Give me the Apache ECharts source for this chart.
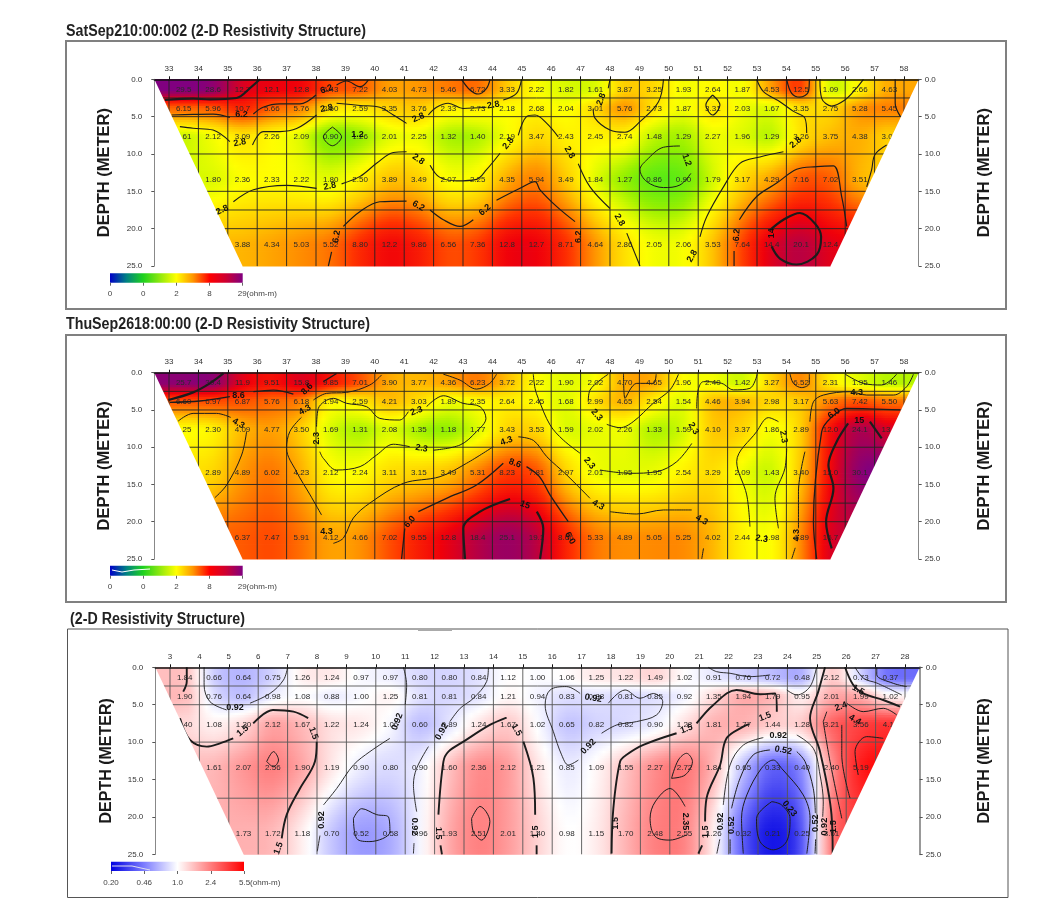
<!DOCTYPE html>
<html>
<head>
<meta charset="utf-8">
<script src="https://cdn.jsdelivr.net/npm/echarts@6/dist/echarts.min.js"></script>
<style>html,body{margin:0;padding:0;background:#fff}#c{width:1061px;height:915px;filter:blur(0.5px)}</style>
</head>
<body>
<div id="c"></div>
<script>
// ---------- read values ----------
const titles = ['SatSep210:00:002 (2-D Resistivity Structure)','ThuSep2618:00:00 (2-D Resistivity Structure)','(2-D Resistivity Structure)'];
const columnStart = [33, 33, 3];
const rowDepths = [1.4, 3.9, 7.7, 13.4, 22.2];
const legendTicks1 = ['0','0','2','8','29(ohm-m)'];
const legendTicks3 = ['0.20','0.46','1.0','2.4','5.5(ohm-m)'];
const depthTicks = [0,5,10,15,20,25];

const p1r1=[29.5,28.6,12.7,12.1,12.8,6.43,7.22,4.03,4.73,5.46,6.72,3.33,2.22,1.82,1.61,3.87,3.25,1.93,2.64,1.87,4.53,12.5,1.09,2.66,4.63];
const p1r2=[6.15,5.96,10.7,5.66,5.76,2.60,2.59,3.35,3.76,2.33,2.73,2.18,2.68,2.04,3.01,5.76,2.73,1.87,3.31,2.03,1.67,3.35,2.75,5.28,5.45];
const p1r3=[1.61,2.12,3.09,2.26,2.09,0.90,1.26,2.01,2.25,1.32,1.40,2.19,3.47,2.43,2.45,2.74,1.48,1.29,2.27,1.96,1.29,3.26,3.75,4.38,3.07];
const p1r4=[null,1.80,2.36,2.33,2.22,1.80,2.50,3.89,3.49,2.07,2.25,4.35,5.94,3.49,1.84,1.27,0.86,0.90,1.79,3.17,4.29,7.16,7.02,3.51,null];
const p1r5=[null,null,3.88,4.34,5.03,5.52,8.80,12.2,9.86,6.56,7.36,12.8,12.7,8.71,4.64,2.86,2.05,2.06,3.53,7.64,14.4,20.1,12.4,null,null];

const p2r1=[25.7,30.4,11.9,9.51,15.8,9.85,7.01,3.90,3.77,4.36,6.23,3.72,2.22,1.90,2.02,4.70,4.65,1.96,2.40,1.42,3.27,6.52,2.31,1.95,1.46];
const p2r2=[6.60,6.97,6.87,5.76,6.18,1.94,2.59,4.21,3.03,1.89,2.35,2.64,2.45,1.68,2.99,4.65,2.54,1.54,4.46,3.94,2.98,3.17,5.63,7.42,5.50];
const p2r3=[2.25,2.30,4.09,4.77,3.50,1.69,1.31,2.08,1.35,1.18,1.77,3.43,3.53,1.59,2.02,2.26,1.33,1.59,4.10,3.37,1.86,2.89,12.0,24.1,13.2];
const p2r4=[null,2.89,4.89,6.02,4.23,2.12,2.24,3.11,3.15,3.49,5.31,8.23,7.81,2.97,2.01,1.95,1.95,2.54,3.29,2.09,1.43,3.40,12.0,30.1,null];
const p2r5=[null,null,6.37,7.47,5.91,4.12,4.66,7.02,9.55,12.8,18.4,25.1,19.1,8.66,5.33,4.89,5.05,5.25,4.02,2.44,1.98,4.89,16.7,null,null];

const p3r1=[1.84,0.66,0.64,0.75,1.26,1.24,0.97,0.97,0.80,0.80,0.84,1.12,1.00,1.06,1.25,1.22,1.49,1.02,0.91,0.76,0.72,0.48,2.12,0.73,0.37];
const p3r2=[1.90,0.76,0.64,0.98,1.08,0.88,1.00,1.25,0.81,0.81,0.84,1.21,0.94,0.83,0.88,0.81,0.85,0.92,1.35,1.94,1.79,0.95,2.01,1.99,1.02];
const p3r3=[1.40,1.08,1.30,2.12,1.67,1.22,1.24,1.06,0.60,0.89,1.24,1.67,1.02,0.65,0.82,0.82,0.90,1.28,1.81,1.77,1.44,1.28,3.21,3.56,4.11];
const p3r4=[null,1.61,2.07,2.56,1.90,1.19,0.90,0.80,0.90,1.60,2.36,2.12,1.21,0.85,1.09,1.55,2.27,2.72,1.84,0.65,0.33,0.40,2.40,5.19,null];
const p3r5=[null,null,1.73,1.72,1.18,0.70,0.52,0.58,0.96,1.93,2.51,2.01,1.40,0.98,1.15,1.70,2.48,2.55,1.26,0.32,0.21,0.25,3.61,null,null];

const contours1=[
['14',[[32.86,2.77],[33.82,2.59],[34.39,2.68],[35.3,2.5],[35.75,1.2],[36.09,0]]],
['6.2',[[33.09,4.78],[33.82,4.69],[34.5,4.65],[35.07,5.1]]],
['6.2',[[35.87,4.65],[36.2,3.75],[36.77,3.3],[37.45,3.3],[38,2.1]]],
['6.2',[[38.7,0.76],[39.04,0.23],[39.5,0.99],[39.78,0.1]]],
['6.2',[[42.95,0],[43.24,1.43],[43.52,1.97],[43.8,1.2],[43.92,0]]],
['2.8',[[38.7,3.2],[39.5,3.5],[40.17,3.75],[40.63,4.78],[41.08,5.9]]],
['2.8',[[41.82,4.78],[42.1,3.75],[42.5,3.2],[43,3.9],[43.8,3.75]]],
['2.8',[[44.37,2.77],[44.82,1.88],[44.99,0]]],
['2.8',[[35.84,8.8],[36.2,7],[36.77,7],[37.34,6.6],[38.02,4.78]]],
['2.8',[[33.37,6.34],[33.82,6.56],[34.5,6.8],[35.07,8.35]]],
['2.8',[[35.19,16.4],[35.87,14.8],[37,14.2],[38.02,14.6]]],
['2.8',[[38.87,14],[39.5,13],[40.06,11.25],[40.63,9.8],[41.08,9.7]]],
['2.8',[[41.88,11.5],[42.2,13.1],[42.78,13.6],[43.46,13.4],[43.8,12.1],[44.26,9.9]]],
['2.8',[[44.88,7.5],[45.16,5],[45.45,4.78],[45.85,5.9],[46.24,7.7]]],
['2.8',[[46.92,11.3],[47.32,14.4],[48,17.3]]],
['2.8',[[48.57,20.6],[49.02,25]]],
['6.2',[[38.42,25],[38.53,23.1]]],
['6.2',[[38.93,19.7],[39.5,17.7],[40.17,16.4],[41.08,16.3]]],
['6.2',[[41.88,17.5],[42.33,18.8],[42.9,19.7],[43.35,18.8]]],
['6.2',[[44.14,16.2],[44.94,14.6],[45.45,13.7],[45.62,14.8],[46.19,17.05],[46.81,19.06]]],
['2.8',[[48,0],[47.94,1.2]]],
['2.8',[[47.43,3.9],[47.49,5.2],[48,6.8],[48.51,7.1],[49.02,5.67],[49.65,3],[49.82,0]]],
['2.8',[[51.49,2.1],[51.74,3.44],[51.49,4.78],[51.26,3.44],[51.49,2.1]]],
['2.8',[[52.99,0],[53.22,1.65],[53.78,3],[54.24,4.3],[54.63,5.2],[54.69,7.2]]],
['2.8',[[53.9,9.7],[53.1,10.4],[52.42,11.25],[51.86,14.4],[51.29,18.4],[51.06,21.1]]],
['1.2',[[50.38,8.93],[49.82,9.1],[49.25,10.8],[49.02,12.1],[49.25,13.7],[49.82,14.5],[50.38,14.15],[50.75,12.6]]],
['6.2',[[52.4,18.8],[52.99,15.7],[53.67,13.9],[54.35,12.05],[55.03,11.7],[55.6,11.6],[55.88,15.7],[56.05,19.7]]],
['6.2',[[52.22,25],[52.22,23]]],
['14',[[53.44,20.2],[53.9,18.8],[54.46,17.9],[54.97,19.3],[55.18,21.1],[55.03,23.5],[54.35,24.8],[53.78,24],[53.5,22.4]]],
['2.8',[[55.14,0],[55.2,2.55],[55.54,3.57],[55.99,2.77],[56.33,1.43],[56.62,0]]],
['6.2',[[54.01,0],[54.18,1.88],[54.46,2.4],[54.75,1.65],[54.78,0]]],
['6.2',[[57.7,0],[57.7,3.2],[57.88,5]]],
['2.8',[[57.41,8.8],[57.01,10.1],[56.9,12.1],[56.73,14.4]]],
['1.2',[[38.56,6.4],[38.87,7.7],[38.56,8.9],[38.25,7.7],[38.56,6.4]]]
];
const contourLabels1=[
['6.2',35.47,4.78,0],['6.2',38.36,1.34,20],['6.2',41.48,16.96,-30],['6.2',43.75,17.5,40],['6.2',38.7,21.07,80],['6.2',46.92,21.07,90],['6.2',52.31,20.85,85],
['2.8',35.41,8.48,10],['2.8',38.36,3.89,10],['2.8',41.48,5.14,25],['2.8',44.03,3.44,10],['2.8',44.54,8.57,50],['2.8',41.48,10.72,-35],['2.8',38.47,14.3,10],['2.8',34.81,17.5,25],
['2.8',46.62,9.78,-60],['2.8',48.32,18.84,-60],['2.8',47.7,2.68,70],['2.8',54.32,8.48,40],['2.8',50.8,23.66,60],['1.2',50.61,10.8,-70],['14',53.5,20.6,90],['1.2',39.41,7.46,0]
];

const contours2=[
['15',[[32.98,3.67],[33.82,2.64],[34.39,1.43],[34.85,0.1]]],
['8.6',[[33.03,3.98],[34.05,3.8],[35.07,3.22]]],
['8.6',[[35.87,2.55],[36.55,2.33],[37.23,2.86]]],
['8.6',[[38.25,1.2],[38.7,0.1]]],
['4.3',[[37.91,3.67],[38.36,2.77],[39.04,2.64],[39.83,1.65],[40.23,0.3]]],
['4.3',[[37.5,6],[37.11,7.9],[37,10.15],[37.34,13.3],[37.8,16.4],[38.19,19.1]]],
['4.3',[[33.31,6.5],[33.82,5.46],[34.62,5.46],[35.1,6]]],
['4.3',[[35.64,7.9],[35.47,11.05],[34.96,15.07],[34.56,16.77]]],
['2.3',[[38.02,7.24],[38.08,4.78],[38.59,3.44],[39.04,4.11],[39.72,4.56],[40.17,6.13],[40.85,6.35],[41.14,5.23]]],
['2.3',[[41.76,4.56],[42.33,3.09],[43,4.11],[43.58,4.56],[43.78,6.13],[43.46,7.9],[42.9,9.7],[41.99,10.4]]],
['2.3',[[41.19,9.93],[40.63,9.6],[40.06,11.05],[39.5,12.6],[38.7,13.06],[38.25,11.5],[38.13,10.6]]],
['6.0',[[40.91,25],[41.02,20.9]]],
['6.0',[[41.48,18.65],[42.44,16.86],[43.46,15.07],[44.37,12.16]]],
['6.0',[[45.16,12.6],[45.6,13.95],[45.96,16.4],[46.58,20]]],
['4.3',[[38.59,22.9],[38.93,22.2],[39.27,19.5],[39.83,17.5],[40.97,14.85],[42.22,13.95],[43.12,12.16],[44.03,9.93]]],
['4.3',[[44.88,8.6],[45.4,9.1],[45.85,11.27],[46.53,13.73],[47.32,16.86]]],
['4.3',[[48,18.65],[48.91,18.96],[49.82,18.42],[50.78,18.42]]],
['4.3',[[51.18,23.57],[51.12,25]]],
['15',[[43.07,25],[43.01,20.9],[43.58,18.65],[44.6,16.95]]],
['15',[[45.51,18.65],[45.73,20.9],[45.62,25]]],
['2.3',[[50.33,0.2],[50.04,2.3],[49.47,4.1],[48.79,6.57],[48.34,7.38],[47.89,6.93]]],
['2.3',[[47.26,3.9],[47.32,2.33],[47.94,0.2]]],
['2.3',[[45.39,0.2],[45.45,2.1],[45.56,3.44],[45.96,7],[46.41,9.03],[46.98,10.8]]],
['2.3',[[47.66,13.06],[48.68,13.5],[49.59,13.28],[50.27,11.94],[50.78,9.5]]],
['2.3',[[50.95,4.8],[51,2.3],[51.18,1.2],[51.8,1.43],[52.2,2.3],[52.76,2.1],[53.01,0.2]]],
['4.3',[[48.46,0.1],[48.51,3.44],[48.91,1.43],[49.47,1.43],[49.57,0.2]]],
['2.3',[[52.76,20.66],[52.65,16.4],[52.31,11.94],[52.99,7.9],[53.39,6.03],[53.73,6.57]]],
['2.3',[[54.01,10.15],[53.95,12.83],[53.61,16.86],[53.73,20.88]]],
['4.3',[[54.63,10.6],[54.41,15.97],[54.41,20.88]]],
['4.3',[[54.18,25],[54.3,23.5]]],
['4.3',[[54.8,6.57],[54.92,3.9],[55.26,3],[56.16,2.55],[56.73,3],[57.64,3],[58.09,1.88],[58.32,0.2]]],
['6.0',[[55.03,25],[54.92,20],[55.2,7.9],[55.5,6.1],[56.05,4.78],[57.87,5]]],
['15',[[55.54,23.57],[55.35,20],[55.6,15.5],[55.43,12.4],[55.71,9.26],[56.1,6.8]]],
['15',[[56.84,6.57],[57.24,8.8]]],
['2.3',[[56,0.2],[56.62,1.43],[57.24,1.65],[57.75,0.2]]],
['4.3',[[54.12,0.1],[54.24,1.43],[54.52,2],[54.78,1.43],[54.78,0.2]]],
['4.3',[[42.33,0.2],[42.9,1],[43.46,2.2],[43.91,1.43],[44.14,0.2]]]
];
const contourLabels2=[
['8.6',35.36,3,0],['8.6',37.7,2.2,45],['4.3',37.62,5,30],['4.3',35.36,6.8,-30],['2.3',41.42,5.14,20],['2.3',41.59,10.15,-10],['2.3',38.02,8.8,90],['6.0',41.19,20,50],['4.3',44.48,9.17,20],['8.6',44.77,12.16,-20],['15',45.11,17.75,-20],['4.3',38.36,21.33,0],
['6.0',46.64,22.2,-60],['4.3',47.6,17.75,-30],['4.3',51.12,19.77,-30],['2.3',47.55,5.68,-50],['2.3',47.3,12.16,-50],['2.3',50.84,7.47,-60],['2.3',53.9,8.6,-80],['2.3',53.16,22.3,-10],['4.3',54.35,21.8,90],['4.3',56.39,2.64,0],['6.0',55.62,5.46,35],['15',56.48,6.35,0]
];

const contours3=[
['1.5',[[3.57,0],[3.57,1.9],[3.45,3.25]]],
['1.5',[[3.34,6.8],[3.68,9.7],[4.25,10.6],[4.7,10.16],[5.15,9.5]]],
['1.5',[[5.83,7.5],[6.5,5.7],[7.2,5.93],[7.7,6.8]]],
['1.5',[[7.99,9.94],[7.93,12.6],[7.42,16.2],[6.97,19.7],[6.8,22.86]]],
['0.92',[[4.16,0],[4.16,2.36],[4.36,4.6],[4.93,5.7]]],
['0.92',[[5.72,4.8],[6.4,3.5],[6.86,1.7],[7,0]]],
['2.4',[[6.29,12.6],[6.52,11.27],[6.69,12.4],[6.52,13.3],[6.29,12.6]]],
['0.92',[[10.94,0],[11.05,2.36],[11,5]]],
['0.92',[[10.48,9.5],[9.8,11.27],[9.24,13.06],[8.67,16.2],[8.22,18.4]]],
['0.92',[[8.1,22.5],[8.01,24.6]]],
['0.58',[[9.24,20.2],[9.52,18.9],[10.03,19.7],[10.43,20],[10.48,22],[9.8,23.3],[9.35,22.9],[9.24,20.2]]],
['0.92',[[13.83,0],[13.77,1.9],[13.32,4.14],[12.87,5.48],[12.52,7.26]]],
['0.92',[[11.79,10.6],[11.39,13.5],[11.28,15.7],[11.39,19.3]]],
['0.92',[[11.3,23.5],[11.28,24.9]]],
['1.5',[[12.13,19.7],[12.3,12.6],[12.47,11.27],[12.98,9.94],[13.88,7.7],[14.45,6.73]]],
['1.5',[[15.02,9.94],[15.36,14.8],[15.42,19.7]]],
['1.5',[[15.47,23.8],[15.47,25]]],
['1.5',[[12.2,23.8],[12.25,25]]],
['2.4',[[13.26,20.2],[13.54,18.6],[13.88,20.6],[13.6,23.1],[13.32,22],[13.26,20.2]]],
['0.92',[[16.95,3.5],[16.49,2.58],[15.93,3.03],[15.76,5.03],[16.04,8.6],[16.32,11.7],[16.55,13.06],[16.89,12.4]]],
['0.92',[[17.68,8.82],[18.2,7.7],[18.87,7.26],[19.55,6.37],[19.76,4.6],[19.44,3.5],[18.99,4.14],[18.48,3.03],[17.91,4.8]]],
['1.5',[[18.02,24.9],[18.08,18.85],[18.31,12.6],[18.53,11.7],[19.1,10.38],[20.23,8.82]]],
['1.5',[[20.91,7.5],[21.48,5.03],[22.27,3.03],[23.07,3.6],[23.58,3.48],[23.64,5.93]]],
['1.5',[[22.7,7.6],[22.5,7.93],[21.93,9.5],[21.71,13.06],[21.25,17.5],[21.2,20.6]]],
['1.5',[[21.1,23.8],[20.97,24.9]]],
['2.4',[[20.06,14.84],[20.29,12.4],[20.57,11.5],[20.77,12.6],[20.52,14.4],[20.06,14.84]]],
['2.4',[[20.52,18.6],[20.01,16.2],[19.5,18],[19.33,20.2],[19.5,22.6],[20.01,23.1],[20.57,22.4]]],
['0.92',[[21.31,0],[21.59,0.58],[22.05,0.8],[22.73,1.25],[23.41,1.02]]],
['0.92',[[23.98,3.03],[24.32,3.7],[24.77,2.58],[24.99,0]]],
['0.92',[[24.32,9.05],[24.88,10.83],[25.11,14.4],[25.22,18],[25.2,20]]],
['0.92',[[23.18,9.4],[22.5,10.4],[22.05,13.06],[21.82,18.4]]],
['0.92',[[21.7,23],[21.6,24.9]]],
['0.52',[[23.41,11.05],[22.84,11.7],[22.39,14.84],[22.1,18.85]]],
['0.52',[[22.05,23],[22.05,24.9]]],
['0.52',[[24.32,11.27],[24.6,12.6],[24.88,16.2],[24.95,19.5]]],
['0.52',[[24.96,23],[24.94,24.9]]],
['0.33',[[22.5,24.9],[22.44,20.2],[22.62,17.07],[23.12,13.5],[23.52,12.4],[23.8,13.5],[24.54,17.07],[24.77,20.2],[24.66,24.9]]],
['0.23',[[23.47,17.96],[22.95,20.2],[23.07,23.3],[23.52,24.4],[23.97,23.3],[24.09,20.2],[23.8,18.4],[23.47,17.96]]],
['1.5',[[25.28,0],[25.05,3.25],[24.77,6.8],[25.11,11.27],[25.5,19.7],[25.54,24.9]]],
['2.4',[[25.22,7.26],[25.34,5.93]]],
['2.4',[[25.22,7.26],[25.45,12.6],[25.85,20.2]]],
['2.4',[[26.02,4.8],[26.58,5.93],[27.26,5.48],[27.72,6.37]]],
['4.4',[[25.85,7.7],[25.85,11.7],[26.13,17.5]]],
['5.5',[[27.26,9.5],[26.7,9.27],[26.3,11.27],[26.41,14.4]]],
['1.5',[[25.96,0],[26.24,2.36],[26.58,3.48],[27.26,4.37],[27.83,5.26]]],
['0.48',[[27.04,0],[27.04,1],[27.6,2.14],[28.06,2.58]]],
['0.92',[[26.3,0],[26.6,1.5],[27.04,2.1],[27.89,3.7]]]
];
const contourLabels3=[
['0.92',5.21,5.39,0],['1.5',5.47,8.5,40],['1.5',7.88,8.82,-70],['0.92',10.73,7.26,70],['0.92',8.16,20.4,90],['0.92',12.24,8.6,60],['0.92',11.33,21.3,-90],['1.5',6.69,24.2,70],['1.5',12.13,22.2,-90],['1.5',14.79,8.38,-60],['1.5',15.42,22,90],
['0.92',17.23,10.6,45],['0.92',17.4,4.14,-10],['1.5',20.57,8.24,20],['1.5',23.24,6.6,20],['0.92',23.69,9.13,0],['0.52',23.86,11.1,-10],['0.23',24.07,18.9,-50],['2.35',20.52,20.6,-90],['1.5',21.2,22,90],['0.92',21.73,20.6,90],['0.52',22.1,21.1,90],['0.52',24.94,20.85,90],['0.92',25.26,21.3,90],['2.4',25.82,5.26,20],['1.5',26.41,3.03,-30],['4.4',26.3,7,-30],['1.5',25.56,21.3,90],['1.5',18.14,20.85,90]
];

// ---------- layout & style ----------
const FONT='"Liberation Sans",Arial,sans-serif';
const rainbow={lo:0.14,hi:29,
  stops:[[0,[0,0,200]],[.125,[0,130,130]],[.25,[30,210,30]],[.35,[90,235,20]],[.42,[150,240,0]],[.48,[215,250,0]],[.525,[255,255,0]],[.604,[255,200,0]],[.67,[255,140,0]],[.758,[255,50,0]],[.834,[240,0,10]],[.93,[170,0,80]],[1,[128,0,128]]],
  legend:[[0,[0,0,200]],[.125,[0,130,130]],[.25,[30,210,30]],[.5,[255,255,0]],[.625,[255,150,0]],[.75,[255,0,0]],[.875,[205,0,50]],[1,[128,0,128]]]};
const bluered={lo:0.2,hi:5.5,stops:[[0,[0,0,225]],[.25,[125,125,255]],[.5,[255,255,255]],[.75,[255,125,125]],[1,[255,0,0]]]};
bluered.legend=bluered.stops;
const panels=[
 {left:154.3,top:79.3,h:186.7,rows:[p1r1,p1r2,p1r3,p1r4,p1r5],pal:rainbow,contours:contours1,labels:contourLabels1,hlines:[2.5,5,10,15,17.5,20],lineCol:'#222',
  leg:{left:110,top:273.3,h:9.4,w:132.7,ticks:legendTicks1}},
 {left:154.3,top:372.7,h:186.3,rows:[p2r1,p2r2,p2r3,p2r4,p2r5],pal:rainbow,contours:contours2,labels:contourLabels2,hlines:[2.5,5,10,15,17.5,20],lineCol:'#222',
  leg:{left:110,top:565.7,h:10,w:132.7,ticks:legendTicks1}},
 {left:155.3,top:667.3,h:187,rows:[p3r1,p3r2,p3r3,p3r4,p3r5],pal:bluered,contours:contours3,labels:contourLabels3,hlines:[2.5,5,10,17.5],lineCol:'#555',
  leg:{left:111,top:861.7,h:9.3,w:133,ticks:legendTicks3}}
];
const W=764.4, NCOL=25;
const lineWidth={'14':2.2,'15':2.2,'8.6':1.3,'6.2':1.2,'6.0':1.3,'1.5':1.9,'2.3':1,'2.8':1.1,'4.3':1,'0.92':0.9};

function palColor(p,t){
  t=Math.max(0,Math.min(1,t));
  const s=p.stops;let i=0;while(i<s.length-2&&t>s[i+1][0])i++;
  const f=(t-s[i][0])/(s[i+1][0]-s[i][0]);
  const c=[0,1,2].map(k=>Math.round(s[i][1][k]+(s[i+1][1][k]-s[i][1][k])*f));
  return 'rgb('+c.join(',')+')';
}
function norm(p,v){return (Math.log(v)-Math.log(p.lo))/(Math.log(p.hi)-Math.log(p.lo));}
function sm(f){return 0.5*f+0.5*f*f*(3-2*f);}
function cr(a,b,c,d,f){return b+0.5*f*(c-a+f*(2*a-5*b+4*c-d+f*(3*(b-c)+d-a)));}
// shading lookup built from the read cell values; empty cells borrow the nearest read value of their row
function shader(panel){
  const raw=panel.rows.map(r=>r.map((v,i)=>{
    if(v!=null)return norm(panel.pal,v);
    let d=1;while(true){const a=r[i-d],b=r[i+d];if(a!=null)return norm(panel.pal,a);if(b!=null)return norm(panel.pal,b);d++;}
  }));
  const g=raw.map(r=>r.map((v,i)=>0.15*r[Math.max(0,i-1)]+0.7*v+0.15*r[Math.min(NCOL-1,i+1)]));
  const rowAt=(r,u)=>{
    const i=Math.min(NCOL-2,Math.floor(u)),f=u-i,R=g[r];
    return cr(R[Math.max(0,i-1)],R[i],R[i+1],R[Math.min(NCOL-1,i+2)],f);
  };
  return function(u,d){
    u=Math.max(0,Math.min(NCOL-1,u));
    let r=0;while(r<rowDepths.length-2&&d>rowDepths[r+1])r++;
    let fy=(d-rowDepths[r])/(rowDepths[r+1]-rowDepths[r]);fy=sm(Math.max(0,Math.min(1,fy)));
    return rowAt(r,u)*(1-fy)+rowAt(r+1,u)*fy;
  };
}

const grid=[],xAxis=[],yAxis=[],series=[],graphicEls=[];
const titlePos=[[66,32],[66,325],[70,620]];
const framePos=[[66,41,940,268,'#808080',2],[66,335,940,267,'#808080',2],[67.5,629,940.5,268.5,'#555',1]];
titles.forEach((t,i)=>graphicEls.push({type:'text',x:titlePos[i][0],y:titlePos[i][1],scaleX:0.89,silent:true,
  style:{text:t,fill:'#222',font:'bold 16px '+FONT,textAlign:'left',textVerticalAlign:'middle'}}));
framePos.forEach(f=>graphicEls.push({type:'rect',shape:{x:f[0],y:f[1],width:f[2],height:f[3]},style:{fill:'none',stroke:f[4],lineWidth:f[5]},silent:true}));
graphicEls.push({type:'rect',shape:{x:418,y:629,width:34,height:2},style:{fill:'#aaa'},silent:true});

panels.forEach((P,pi)=>{
  const c0=columnStart[pi], xmin=c0-0.5, xmax=c0+25.5;
  const gi=grid.length;
  grid.push({left:P.left,top:P.top,width:W,height:P.h});
  const cols=[];for(let k=0;k<26;k++)cols.push(c0+k);
  xAxis.push({gridIndex:gi,type:'value',position:'top',min:xmin,max:xmax,z:20,
    axisLine:{show:true,lineStyle:{color:'#111',width:1.5}},splitLine:{show:false},
    axisTick:{show:true,customValues:cols,length:3,inside:false,lineStyle:{color:'#111'}},
    axisLabel:{show:true,customValues:cols,margin:7,fontSize:8,fontFamily:FONT,color:'#333',formatter:v=>String(v)}});
  const yAx=(pos,gap)=>({gridIndex:gi,type:'value',position:pos,inverse:true,min:0,max:25,interval:5,z:20,
    name:'DEPTH (METER)',nameLocation:'middle',nameGap:gap,nameRotate:90,nameTextStyle:{fontFamily:FONT,fontWeight:'bold',fontSize:pi==2?16:16.5,color:'#1a1a1a'},
    axisLine:{show:true,onZero:false,lineStyle:{color:pos=='right'&&pi==2?'#999':'#888',width:pos=='right'&&pi==2?2:1}},
    axisTick:{show:true,length:3,lineStyle:{color:'#555'}},splitLine:{show:false},
    axisLabel:{fontSize:8,fontFamily:FONT,color:'#333',margin:pos=='left'?12:6,formatter:v=>v.toFixed(1)}});
  const yi=yAxis.length;
  yAxis.push(yAx('left',41),yAx('right',57));
  const shade=shader(P);
  const cellData=[];
  P.rows.forEach((r,ri)=>r.forEach((v,ci)=>cellData.push([c0+ci+0.5,rowDepths[ri],v==null?0:v,ri,ci])));
  const rowEdge=ri=>ri<0?0:ri>=rowDepths.length-1?25:(rowDepths[ri]+rowDepths[ri+1])/2;
  // colour field
  series.push({type:'custom',name:'field',coordinateSystem:'cartesian2d',xAxisIndex:gi,yAxisIndex:yi,z:1,silent:true,animation:false,clip:false,data:cellData,
    encode:{x:0,y:1},
    renderItem:(params,api)=>{
      const ri=api.value(3),ci=api.value(4),cx=api.value(0);
      const lo=ci==0?-1:-0.5,hi=ci==NCOL-1?1:0.5;
      const d0=rowEdge(ri-1),d1=rowEdge(ri);
      const a=api.coord([cx+lo,d0]),b=api.coord([cx+hi,d1]);
      const n=Math.max(1,Math.ceil((b[1]-a[1])/2.5));
      const ch=[];
      for(let k=0;k<n;k++){
        const d=d0+(d1-d0)*(k+0.5)/n;
        const y=a[1]+(b[1]-a[1])*k/n;
        const stops=[];
        for(let q=0;q<=4;q++)stops.push({offset:q/4,color:palColor(P.pal,shade(ci+lo+(hi-lo)*q/4,d))});
        ch.push({type:'rect',shape:{x:a[0]-0.3,y:y-0.3,width:b[0]-a[0]+0.6,height:(b[1]-a[1])/n+0.8},
          style:{fill:new echarts.graphic.LinearGradient(0,0,1,0,stops)}});
      }
      return {type:'group',children:ch};
    }});
  // section grid lines
  const lineData=cols.map(c=>[c,0,c,25]).concat(P.hlines.map(d=>[xmin,d,xmax,d]));
  series.push({type:'custom',name:'cells',coordinateSystem:'cartesian2d',xAxisIndex:gi,yAxisIndex:yi,z:2,silent:true,animation:false,clip:false,data:lineData,
    encode:{x:[0,2],y:[1,3]},
    renderItem:(params,api)=>{
      const a=api.coord([api.value(0),api.value(1)]),b=api.coord([api.value(2),api.value(3)]);
      return {type:'line',shape:{x1:a[0],y1:a[1],x2:b[0],y2:b[1]},style:{stroke:P.lineCol,lineWidth:1,opacity:.9}};
    }});
  // cell value text
  series.push({type:'custom',name:'values',coordinateSystem:'cartesian2d',xAxisIndex:gi,yAxisIndex:yi,z:3,silent:true,animation:false,clip:false,
    data:cellData.filter(d=>d[2]>0),encode:{x:0,y:1},
    renderItem:(params,api)=>{
      const p=api.coord([api.value(0),api.value(1)]),v=api.value(2);
      return {type:'text',x:p[0],y:p[1],style:{text:v>=10?v.toFixed(1):v.toFixed(2),fill:'#2a2a2a',font:'8px '+FONT,align:'center',verticalAlign:'middle'}};
    }});
  // contour lines
  P.contours.forEach(ct=>{
    series.push({type:'line',name:ct[0],xAxisIndex:gi,yAxisIndex:yi,z:4,silent:true,animation:false,clip:false,data:ct[1],smooth:0.35,symbol:'none',
      lineStyle:{color:'#1c1c1c',width:lineWidth[ct[0]]||1}});
  });
  // white mask outside the section
  series.push({type:'custom',name:'mask',coordinateSystem:'cartesian2d',xAxisIndex:gi,yAxisIndex:yi,z:5,silent:true,animation:false,clip:false,
    data:[[xmin,xmin+3,-1],[xmax,xmax-3,1]],encode:{x:[0,1]},
    renderItem:(params,api)=>{
      const top=api.coord([api.value(0),0]),bot=api.coord([api.value(1),25]),s=api.value(2);
      const p=[[top[0]+s,top[1]],top,[bot[0],bot[1]],[bot[0],bot[1]+2],[top[0]+s,bot[1]+2]];
      return {type:'polygon',shape:{points:p},style:{fill:'#fff'}};
    }});
  // contour level text
  series.push({type:'custom',name:'levels',coordinateSystem:'cartesian2d',xAxisIndex:gi,yAxisIndex:yi,z:6,silent:true,animation:false,clip:false,
    data:P.labels.map(l=>[l[1],l[2],l[3]]),encode:{x:0,y:1},
    renderItem:(params,api)=>{
      const l=P.labels[params.dataIndex],p=api.coord([l[1],l[2]]);
      return {type:'text',x:p[0],y:p[1],rotation:l[3]*Math.PI/180,style:{text:l[0],fill:'#111',font:'bold 9px '+FONT,align:'center',verticalAlign:'middle'}};
    }});
  // legend bar
  const L=P.leg,lg=grid.length;
  grid.push({left:L.left,top:L.top,width:L.w,height:L.h});
  xAxis.push({gridIndex:lg,type:'value',min:0,max:4,interval:1,position:'bottom',z:20,splitLine:{show:false},
    axisLine:{show:false},axisTick:{show:true,length:3,lineStyle:{color:'#666'}},axisLabel:{show:false}});
  const ly=yAxis.length;
  yAxis.push({gridIndex:lg,type:'value',min:0,max:1,show:false});
  series.push({type:'custom',name:'legend',coordinateSystem:'cartesian2d',xAxisIndex:lg,yAxisIndex:ly,z:2,silent:true,animation:false,clip:false,
    data:[[0,0,4,1]],encode:{x:[0,2],y:[1,3]},
    renderItem:(params,api)=>{
      const a=api.coord([api.value(0),api.value(1)]),b=api.coord([api.value(2),api.value(3)]);
      const stops=P.pal.legend.map(s=>({offset:s[0],color:'rgb('+s[1].join(',')+')'}));
      return {type:'rect',shape:{x:a[0],y:b[1],width:b[0]-a[0],height:a[1]-b[1]},style:{fill:new echarts.graphic.LinearGradient(0,0,1,0,stops)}};
    }});
  series.push({type:'custom',name:'legendTicks',coordinateSystem:'cartesian2d',xAxisIndex:lg,yAxisIndex:ly,z:2,silent:true,animation:false,clip:false,
    data:L.ticks.map((t,i)=>[i,0]),encode:{x:0,y:1},
    renderItem:(params,api)=>{
      const i=params.dataIndex,p=api.coord([i,0]),last=i==L.ticks.length-1;
      return {type:'text',x:p[0]-(last?5:0),y:p[1]+11.5,style:{text:L.ticks[i],fill:'#444',font:'8px '+FONT,align:last?'left':'center',verticalAlign:'middle'}};
    }});
});
// scuffs in the second and third legend bars
graphicEls.push({type:'polyline',shape:{points:[[112,570],[122,572],[134,570],[150,569]]},style:{stroke:'#fff',lineWidth:1,fill:'none'},z:30,silent:true});
graphicEls.push({type:'polyline',shape:{points:[[112,866],[132,866],[150,870]]},style:{stroke:'#dde',lineWidth:1,fill:'none'},z:30,silent:true});

const chart=echarts.init(document.getElementById('c'),null,{renderer:'canvas',width:1061,height:915});
chart.setOption({animation:false,backgroundColor:'#fff',grid,xAxis,yAxis,series,graphic:{elements:graphicEls}});
</script>
</body>
</html>
